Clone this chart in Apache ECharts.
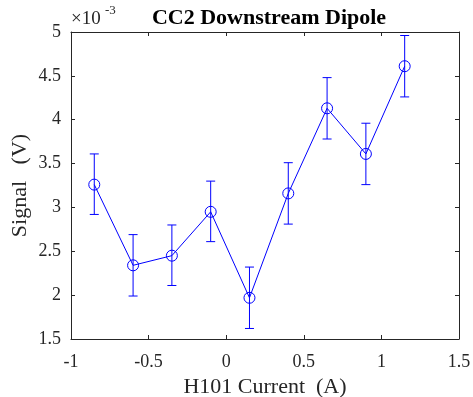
<!DOCTYPE html>
<html>
<head>
<meta charset="utf-8">
<script src="https://cdn.jsdelivr.net/npm/echarts@6/dist/echarts.min.js"></script>
<style>
html,body{margin:0;padding:0;background:#fff;}
#c{width:473px;height:397px;}
</style>
</head>
<body>
<div id="c"></div>
<script>
// values in units of 1e-3 V
var current = [-0.85, -0.6, -0.35, -0.1, 0.15, 0.4, 0.65, 0.9, 1.15];
var signal  = [3.26, 2.34, 2.45, 2.95, 1.97, 3.16, 4.13, 3.61, 4.61];
var errLow  = [2.92, 1.99, 2.11, 2.61, 1.62, 2.81, 3.78, 3.26, 4.26];
var errHigh = [3.61, 2.69, 2.80, 3.30, 2.32, 3.51, 4.48, 3.96, 4.96];

var FONT = '"Liberation Serif", "Times New Roman", serif';
var AX = '#262626';
var BLUE = '#0000ff';

var lineData = current.map(function (x, i) { return [x, signal[i]]; });
var errData = current.map(function (x, i) { return [x, errLow[i], errHigh[i]]; });

var chart = echarts.init(document.getElementById('c'));

function axisCommon(show) {
  return {
    axisLine: { show: true, onZero: false, lineStyle: { color: AX, width: 1 } },
    axisTick: { show: true, inside: true, length: 4, lineStyle: { color: AX } },
    splitLine: { show: false },
    axisLabel: { show: show, color: '#262626', fontFamily: FONT, fontSize: 18 }
  };
}

var xa = axisCommon(true);
var xb = axisCommon(false);
var ya = axisCommon(true);
var yb = axisCommon(false);

chart.setOption({
  animation: false,
  backgroundColor: '#fff',
  title: {
    text: 'CC2 Downstream Dipole',
    left: 264, top: 2, textAlign: 'center',
    textStyle: { fontFamily: FONT, fontWeight: 'bold', fontSize: 22, color: '#000' }
  },
  grid: { left: 71, right: 14, top: 32, bottom: 58, outerBoundsMode: 'none', containLabel: false },
  xAxis: [
    Object.assign({
      type: 'value', min: -1, max: 1.5, interval: 0.5, position: 'bottom',
      name: 'H101 Current  (A)', nameLocation: 'middle', nameGap: 35,
      nameTextStyle: { fontFamily: FONT, fontSize: 22, color: '#262626' }
    }, xa, { axisLabel: Object.assign({}, xa.axisLabel, { margin: 14 }) }),
    Object.assign({ type: 'value', min: -1, max: 1.5, interval: 0.5, position: 'top' }, xb)
  ],
  yAxis: [
    Object.assign({
      type: 'value', min: 1.5, max: 5, interval: 0.5, position: 'left',
      name: 'Signal   (V)', nameLocation: 'middle', nameGap: 40, nameMoveOverlap: false,
      nameTextStyle: { fontFamily: FONT, fontSize: 22, color: '#262626' }
    }, ya, { axisLabel: Object.assign({}, ya.axisLabel, { margin: 10 }) }),
    Object.assign({ type: 'value', min: 1.5, max: 5, interval: 0.5, position: 'right' }, yb)
  ],
  graphic: [
    {
      type: 'text', left: 71, top: 10,
      style: { text: '\u00d710', fontFamily: FONT, fontSize: 19, fill: '#262626' }
    },
    {
      type: 'text', left: 105, top: 4,
      style: { text: '-3', fontFamily: FONT, fontSize: 13, fill: '#262626' }
    }
  ],
  series: [
    {
      type: 'custom',
      xAxisIndex: 0, yAxisIndex: 0,
      data: errData,
      renderItem: function (params, api) {
        var x = api.value(0);
        var lo = api.coord([x, api.value(1)]);
        var hi = api.coord([x, api.value(2)]);
        var w = 4.5;
        var st = { stroke: BLUE, lineWidth: 1 };
        return {
          type: 'group',
          children: [
            { type: 'line', shape: { x1: lo[0], y1: lo[1], x2: hi[0], y2: hi[1] }, style: st },
            { type: 'line', shape: { x1: lo[0] - w, y1: lo[1], x2: lo[0] + w, y2: lo[1] }, style: st },
            { type: 'line', shape: { x1: hi[0] - w, y1: hi[1], x2: hi[0] + w, y2: hi[1] }, style: st }
          ]
        };
      },
      z: 2
    },
    {
      type: 'line',
      xAxisIndex: 0, yAxisIndex: 0,
      data: lineData,
      symbol: 'circle',
      symbolSize: 11,
      lineStyle: { color: BLUE, width: 1 },
      itemStyle: { color: 'rgba(0,0,0,0)', borderColor: BLUE, borderWidth: 1 },
      emphasis: { disabled: true },
      z: 3
    }
  ]
});
</script>
</body>
</html>
